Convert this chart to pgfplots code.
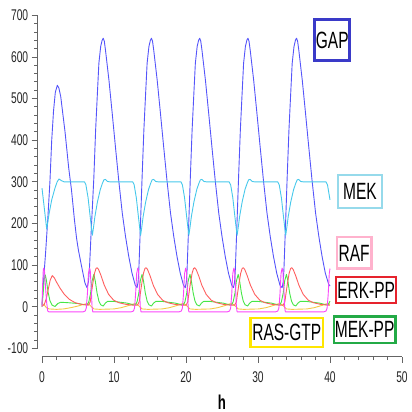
\documentclass[border=0pt]{standalone}
\usepackage{fontspec}
\setmainfont{Liberation Sans}[FakeStretch=0.66]
\usepackage{pgfplots}
\pgfplotsset{compat=1.18}
\definecolor{cGAP}{RGB}{85,85,250}
\definecolor{bGAP}{RGB}{58,58,200}
\definecolor{cMEK}{RGB}{70,200,235}
\definecolor{bMEK}{RGB}{150,218,235}
\definecolor{cRAF}{RGB}{250,70,250}
\definecolor{bRAF}{RGB}{255,178,205}
\definecolor{cERK}{RGB}{255,95,95}
\definecolor{bERK}{RGB}{230,35,45}
\definecolor{cMPP}{RGB}{70,230,70}
\definecolor{bMPP}{RGB}{35,170,70}
\definecolor{cRAS}{RGB}{245,200,70}
\definecolor{bRAS}{RGB}{255,230,0}
\definecolor{axcol}{RGB}{100,100,100}
\begin{document}
\begin{tikzpicture}
\begin{axis}[
  scale only axis, width=360pt, height=333.2pt,
  xmin=0, xmax=50, ymin=-100, ymax=700,
  axis x line=bottom, axis y line=left,
  axis x line shift=8pt, axis y line shift=4.3pt,
  axis line style={-, draw=axcol, line width=1.2pt},
  tick style={draw=axcol, line width=0.9pt},
  tick align=outside,
  major tick length=6pt, minor tick length=3.5pt,
  xtick={0,10,...,50}, ytick={-100,0,...,700},
  minor x tick num=4, minor y tick num=4,
  /pgf/number format/assume math mode=true,
  ticklabel style={font=\fontsize{15.5}{18}\selectfont, text=black!85},
  xticklabel style={yshift=-5.5pt},
  xlabel={\bfseries h},
  xlabel style={font=\fontsize{20}{24}\selectfont, inner sep=0pt, yshift=-8.5pt},
  clip=false,
  every axis plot/.append style={line width=0.9pt, line join=round},
]
% GAP
\addplot[cGAP] coordinates {
(0,5)(0.2,60)(0.5,130)(0.8,210)(1.1,300)(1.35,400)(1.6,470)(1.85,515)(2.13,532)(2.35,525)(2.6,505)(3.2,420)(3.7,335)(4.1,280)(4.5,210)(4.8,165)(5.05,137)(5.5,97)(5.97,57)(6.25,46)
(6.45,60)(6.6,95)(6.8,170)(7.2,310)(7.45,425)(7.7,515)(7.9,585)(8.15,625)(8.35,640)(8.5,645)(8.65,638)(8.82,616)(9.3,544)(9.75,465)(10.2,384)(10.65,305)(11.15,225)(11.6,169)(12.05,121)(12.5,81)(12.95,52)
(13.2,46)(13.35,60)(13.45,89)(13.65,185)(13.9,310)(14.15,425)(14.4,515)(14.6,585)(14.85,625)(15.05,640)(15.2,645)(15.35,638)(15.52,616)(16.0,544)(16.45,465)(16.9,384)(17.35,305)(17.85,225)(18.3,169)(18.75,121)(19.2,81)(19.65,52)
(19.9,46)(20.05,60)(20.15,89)(20.35,185)(20.6,310)(20.85,425)(21.1,515)(21.3,585)(21.55,625)(21.75,640)(21.9,645)(22.05,638)(22.22,616)(22.7,544)(23.15,465)(23.6,384)(24.05,305)(24.55,225)(25.0,169)(25.45,121)(25.9,81)(26.35,52)
(26.6,46)(26.75,60)(26.85,89)(27.05,185)(27.3,310)(27.55,425)(27.8,515)(28.0,585)(28.25,625)(28.45,640)(28.6,645)(28.75,638)(28.92,616)(29.4,544)(29.85,465)(30.3,384)(30.75,305)(31.25,225)(31.7,169)(32.15,121)(32.6,81)(33.05,52)
(33.35,46)(33.5,60)(33.6,89)(33.8,185)(34.05,310)(34.3,425)(34.55,515)(34.75,585)(35.0,625)(35.2,640)(35.35,645)(35.5,638)(35.67,616)(36.15,544)(36.6,465)(37.05,384)(37.5,305)(38.0,225)(38.45,169)(38.9,121)(39.35,81)(39.8,55)(40.0,50)
};
% MEK
\addplot[cMEK] coordinates {
(0,285)(0.3,240)(0.65,187)(1.0,225)(1.35,257)(1.8,285)(2.1,300)(2.36,307)(2.7,303)(3.1,300)(5.9,300)
(6.1,293)(6.4,262)(6.7,215)(6.9,185)(7.0,172)(7.15,190)(7.35,217)(7.7,252)(8.1,282)(8.4,297)(8.6,305)(8.8,306)(9.1,301)(9.5,300)(12.6,300)
(12.8,293)(13.1,262)(13.4,215)(13.6,185)(13.7,172)(13.85,190)(14.05,217)(14.4,252)(14.8,282)(15.1,297)(15.3,305)(15.5,306)(15.8,301)(16.2,300)(19.3,300)
(19.5,293)(19.8,262)(20.1,215)(20.3,185)(20.4,172)(20.55,190)(20.75,217)(21.1,252)(21.5,282)(21.8,297)(22.0,305)(22.2,306)(22.5,301)(22.9,300)(26.0,300)
(26.2,293)(26.5,262)(26.8,215)(27.0,185)(27.1,172)(27.25,190)(27.45,217)(27.8,252)(28.2,282)(28.5,297)(28.7,305)(28.9,306)(29.2,301)(29.6,300)(32.75,300)
(32.95,293)(33.25,262)(33.55,215)(33.75,185)(33.85,172)(34.0,190)(34.2,217)(34.55,252)(34.95,282)(35.25,297)(35.45,305)(35.65,306)(35.95,301)(36.35,300)(39.45,300)
(39.65,293)(40.0,257)
};
% RAS-GTP
\addplot[cRAS] coordinates {
(0,8)(0.3,5)(0.6,-2)(1.0,-5)(2.0,-6)(3.0,-5)(4.0,-2)(5.0,2)(5.8,6)(6.3,8)(6.6,5)(6.9,0)(7.2,-5)(8.0,-6)
(10.0,-5)(11.0,-2)(12.0,3)(12.7,7)(13.0,8)(13.3,5)(13.6,0)(13.9,-5)(14.7,-6)
(16.7,-5)(17.7,-2)(18.7,3)(19.35,7)(19.65,8)(19.95,5)(20.25,0)(20.55,-5)(21.35,-6)
(23.4,-5)(24.4,-2)(25.4,3)(26.05,7)(26.35,8)(26.65,5)(26.95,0)(27.25,-5)(28.05,-6)
(30.1,-5)(31.1,-2)(32.1,3)(32.75,7)(33.05,8)(33.35,5)(33.65,0)(33.95,-5)(34.75,-6)
(36.8,-5)(37.8,-2)(38.8,3)(39.45,7)(39.75,8)(40.0,6)
};
% MEK-PP
\addplot[cMPP] coordinates {
(0,0)(0.15,30)(0.3,65)(0.45,77)(0.6,65)(0.85,35)(1.1,15)(1.4,4)(1.8,1)(2.2,8)(2.6,11)(3.6,10)(5.0,8)(5.9,5)
(6.3,5)(6.5,12)(6.75,33)(6.95,62)(7.2,78)(7.4,62)(7.65,33)(7.9,14)(8.15,5)(8.5,2)(8.8,9)(9.1,13)(10.0,13)(11.8,9)(12.7,5)
(13.0,5)(13.2,12)(13.45,33)(13.65,62)(13.9,78)(14.1,62)(14.35,33)(14.6,14)(14.85,5)(15.2,2)(15.5,9)(15.8,13)(16.7,13)(18.5,9)(19.4,5)
(19.65,5)(19.85,12)(20.1,33)(20.3,62)(20.55,78)(20.75,62)(21.0,33)(21.25,14)(21.5,5)(21.85,2)(22.15,9)(22.45,13)(23.35,13)(25.15,9)(26.05,5)
(26.35,5)(26.55,12)(26.8,33)(27.0,62)(27.25,78)(27.45,62)(27.7,33)(27.95,14)(28.2,5)(28.55,2)(28.85,9)(29.15,13)(30.05,13)(31.85,9)(32.75,5)
(33.05,5)(33.25,12)(33.5,33)(33.7,62)(33.95,78)(34.15,62)(34.4,33)(34.65,14)(34.9,5)(35.25,2)(35.55,9)(35.85,13)(36.75,13)(38.55,9)(39.45,5)
(39.75,5)(40.0,14)
};
% ERK-PP
\addplot[cERK] coordinates {
(0,2)(0.3,5)(0.6,20)(0.9,45)(1.15,65)(1.43,75)(1.7,70)(2.0,60)(2.5,45)(3.1,30)(3.8,18)(4.6,10)(5.5,6)(6.45,4)
(6.7,12)(6.8,25)(7.05,55)(7.3,81)(7.5,92)(7.65,94)(7.85,90)(8.2,75)(8.65,52)(9.25,30)(9.95,16)(10.65,10)(11.65,6)(12.65,4)(13.25,4)
(13.5,12)(13.6,25)(13.85,55)(14.1,81)(14.3,92)(14.45,94)(14.65,90)(15.0,75)(15.45,52)(16.05,30)(16.75,16)(17.45,10)(18.45,6)(19.45,4)(20.0,4)
(20.25,12)(20.35,25)(20.6,55)(20.85,81)(21.05,92)(21.2,94)(21.4,90)(21.75,75)(22.2,52)(22.8,30)(23.5,16)(24.2,10)(25.2,6)(26.2,4)(26.75,4)
(27.0,12)(27.1,25)(27.35,55)(27.6,81)(27.8,92)(27.95,94)(28.15,90)(28.5,75)(28.95,52)(29.55,30)(30.25,16)(30.95,10)(31.95,6)(32.95,4)(33.48,4)
(33.73,12)(33.83,25)(34.08,55)(34.33,81)(34.53,92)(34.68,94)(34.88,90)(35.23,75)(35.68,52)(36.28,30)(36.98,16)(37.68,10)(38.68,6)(39.68,4)(40.0,4)
};
% RAF
\addplot[cRAF] coordinates {
(0,0)(0.08,50)(0.18,90)(0.25,93)(0.35,85)(0.5,45)(0.65,10)(0.8,-10)(0.95,-12)
(5.7,-12)(6.0,-10)(6.15,-3)(6.3,30)(6.45,80)(6.6,93)(6.7,88)(6.85,41)(6.95,0)(7.05,-12)
(12.4,-12)(12.7,-10)(12.85,-3)(13.0,30)(13.15,80)(13.3,93)(13.4,88)(13.55,41)(13.65,0)(13.75,-12)
(19.05,-12)(19.35,-10)(19.5,-3)(19.65,30)(19.8,80)(19.95,93)(20.05,88)(20.2,41)(20.3,0)(20.4,-12)
(25.75,-12)(26.05,-10)(26.2,-3)(26.35,30)(26.5,80)(26.65,93)(26.75,88)(26.9,41)(27.0,0)(27.1,-12)
(32.45,-12)(32.75,-10)(32.9,-3)(33.05,30)(33.2,80)(33.35,93)(33.45,88)(33.6,41)(33.7,0)(33.8,-12)
(39.15,-12)(39.45,-10)(39.6,-3)(39.75,30)(39.9,80)(40.0,92)
};
\coordinate (O) at (axis cs:0,-100);
\begin{scope}[every node/.style={font=\fontsize{23.5}{26}\selectfont, line width=2.5pt, inner sep=0pt, text=black}]
\node[draw=bGAP, minimum width=35pt, minimum height=41pt] at (axis cs:40.31,640.7) {GAP};
\node[draw=bMEK, minimum width=44pt, minimum height=33pt] at (axis cs:44.17,276.5) {MEK};
\node[draw=bRAF, minimum width=34.5pt, minimum height=31.5pt] at (axis cs:43.36,129.3) {RAF};
\node[draw=bERK, minimum width=60pt, minimum height=26pt] at (axis cs:45.03,40.5) {ERK-PP};
\node[draw=bMPP, minimum width=61.5pt, minimum height=26.5pt] at (axis cs:44.82,-54.4) {MEK-PP};
\node[draw=bRAS, minimum width=72.5pt, minimum height=29pt] at (axis cs:34.0,-61.6) {RAS-GTP};
\end{scope}
\end{axis}
\useasboundingbox ([shift={(-42pt,-63.5pt)}]O) rectangle ([shift={(367pt,348.5pt)}]O);
\end{tikzpicture}
\end{document}
